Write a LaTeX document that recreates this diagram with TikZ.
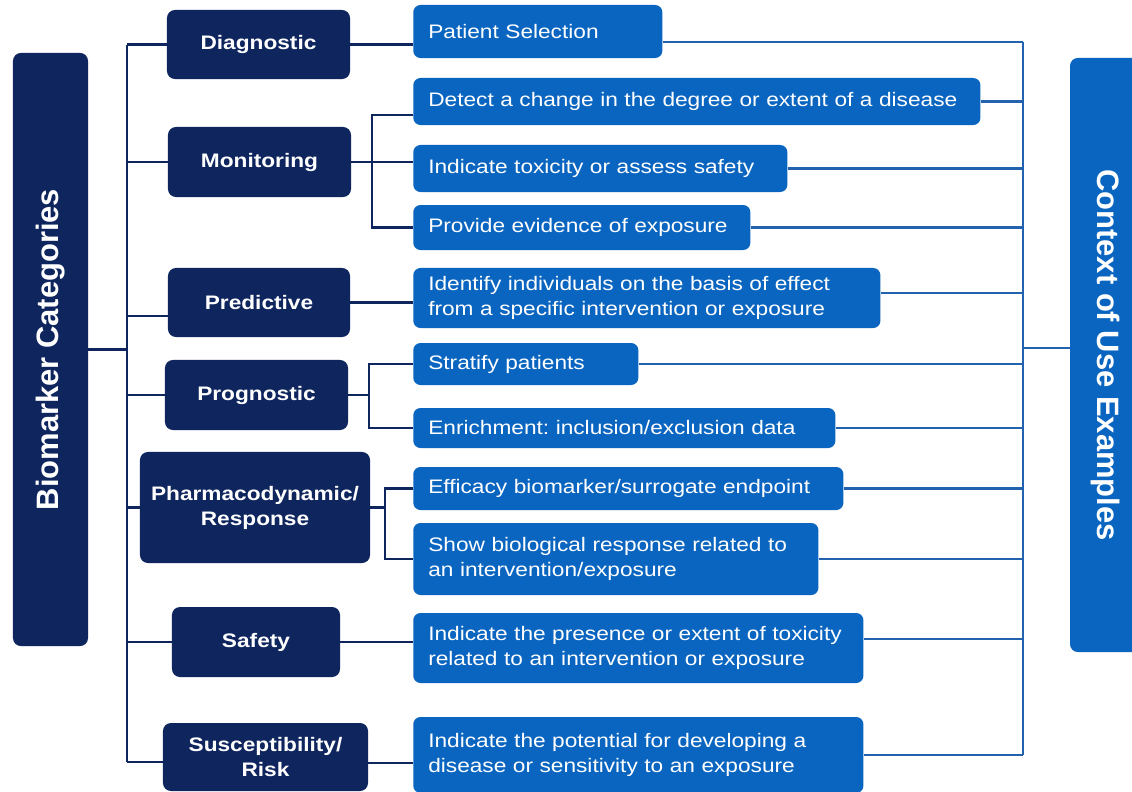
\documentclass[tikz,border=0pt]{standalone}
\usepackage{fontspec}
\setmainfont[FakeStretch=1.16]{Liberation Sans}
\newfontfamily\titlefont{Liberation Sans}
\usepackage{xcolor}
\usepackage{tikz}
\frenchspacing

\definecolor{catnavy}{RGB}{14,37,94}
\definecolor{useblue}{RGB}{10,101,192}
\definecolor{uselinecol}{RGB}{35,98,175}

\tikzset{
  catbox/.style={fill=catnavy, text=white, rounded corners=0.2cm, inner sep=0pt,
    align=center, font=\fontsize{13.9}{17.8}\selectfont\bfseries},
  usebox/.style={fill=useblue, text=white, rounded corners=0.18cm, inner xsep=0.375cm,
    inner ysep=0pt, anchor=west, align=left, font=\fontsize{13.9}{17.8}\selectfont},
  titlebox/.style={text=white, rounded corners=0.2cm, inner sep=0pt,
    font=\titlefont\bfseries\fontsize{22}{26}\selectfont},
  catline/.style={draw=catnavy, line width=1.6pt},
  useline/.style={draw=uselinecol, line width=1.5pt}
}

\begin{document}
\begin{tikzpicture}[x=0.025cm,y=-0.025cm]
  \fill[white] (0,0) rectangle (1132,791);
  \useasboundingbox (0,0) rectangle (1132,791);

  \node[titlebox, fill=catnavy, minimum width=1.875cm, minimum height=14.825cm] (bio) at (50.5,349.5) {\rotatebox{90}{Biomarker Categories}};
  \node[titlebox, fill=useblue, minimum width=1.75cm, minimum height=14.85cm] (ctx) at (1105,355) {\rotatebox{-90}{Context of Use Examples}};

  \node[catbox, minimum width=4.575cm, minimum height=1.725cm] (diag) at (258.5,44.5) {Diagnostic};
  \node[catbox, minimum width=4.575cm, minimum height=1.75cm] (moni) at (259.5,162) {Monitoring};
  \node[catbox, minimum width=4.55cm, minimum height=1.725cm] (pred) at (259,302.5) {Predictive};
  \node[catbox, minimum width=4.575cm, minimum height=1.75cm] (prog) at (256.5,395) {Prognostic};
  \node[catbox, minimum width=5.75cm, minimum height=2.775cm] (phar) at (255,507.5) {Pharmacodynamic/\\Response};
  \node[catbox, minimum width=4.2cm, minimum height=1.75cm] (safe) at (256,642) {Safety};
  \node[catbox, minimum width=5.125cm, minimum height=1.7cm] (risk) at (265.5,757) {Susceptibility/\\Risk};

  \node[usebox, text width=5.475cm, minimum height=1.325cm] (psel) at (413,31.5) {Patient Selection};
  \node[usebox, text width=13.425cm, minimum height=1.175cm] (detc) at (413,101.5) {Detect a change in the degree or extent of a disease};
  \node[usebox, text width=8.6cm, minimum height=1.175cm] (toxi) at (413,168.5) {Indicate toxicity or assess safety};
  \node[usebox, text width=7.675cm, minimum height=1.125cm] (expo) at (413,227.5) {Provide evidence of exposure};
  \node[usebox, text width=10.925cm, minimum height=1.5cm] (iden) at (413,298) {Identify individuals on the basis of effect\\from a specific intervention or exposure};
  \node[usebox, text width=4.875cm, minimum height=1.05cm] (stra) at (413,364) {Stratify patients};
  \node[usebox, text width=9.8cm, minimum height=1.0cm] (enri) at (413,428) {Enrichment: inclusion/exclusion data};
  \node[usebox, text width=10cm, minimum height=1.075cm] (effi) at (413,488.5) {Efficacy biomarker/surrogate endpoint};
  \node[usebox, text width=9.375cm, minimum height=1.8cm] (show) at (413,559) {Show biological response related to\\an intervention/exposure};
  \node[usebox, text width=10.5cm, minimum height=1.75cm] (pres) at (413,648) {Indicate the presence or extent of toxicity\\related to an intervention or exposure};
  \node[usebox, text width=10.5cm, minimum height=1.9cm] (pote) at (413,755) {Indicate the potential for developing a\\disease or sensitivity to an exposure};

  \coordinate (ltr) at (127,0);
  \coordinate (rtr) at (1023,0);
  \coordinate (predin) at ([yshift=-0.34cm]pred.west);
  \coordinate (riskin) at ([yshift=-0.12cm]risk.west);
  \coordinate (riskout) at ([yshift=-0.15cm]risk.east);
  \coordinate (detcin) at ([yshift=-0.34cm]detc.west);
  \coordinate (pselout) at ([yshift=-0.26cm]psel.east);
  \coordinate (idenout) at ([yshift=0.12cm]iden.east);
  \coordinate (presout) at ([yshift=0.22cm]pres.east);
  \coordinate (ctxin) at ([yshift=0.17cm]ctx.west);

  % left side
  \draw[catline] (bio.east) -- (bio.east -| ltr);
  \draw[catline] (diag.west -| ltr) -- (riskin -| ltr);
  \foreach \n in {diag,moni,prog,phar,safe}
    \draw[catline] (\n.west) -- (\n.west -| ltr);
  \draw[catline] (predin) -- (predin -| ltr);
  \draw[catline] (riskin) -- (riskin -| ltr);

  \draw[catline] (diag.east) -- (diag.east -| psel.west);
  \draw[catline] (moni.east) -- (moni.east -| toxi.west);
  \draw[catline] (detcin) -- ++(-41,0) |- (expo.west);
  \draw[catline] (pred.east) -- (pred.east -| iden.west);
  \draw[catline] (prog.east) -- ++(21,0);
  \draw[catline] (stra.west) -- ++(-44,0) |- (enri.west);
  \draw[catline] (phar.east) -- ++(15,0);
  \draw[catline] (effi.west) -- ++(-28,0) |- (show.west);
  \draw[catline] (safe.east) -- (safe.east -| pres.west);
  \draw[catline] (riskout) -- (riskout -| pote.west);

  % right side
  \foreach \n in {detc,toxi,expo,stra,enri,effi,show,pote}
    \draw[useline] (\n.east) -- (\n.east -| rtr);
  \draw[useline] (pselout) -- (pselout -| rtr);
  \draw[useline] (idenout) -- (idenout -| rtr);
  \draw[useline] (presout) -- (presout -| rtr);
  \draw[useline] (pselout -| rtr) -- (pote.east -| rtr);
  \draw[useline] (ctxin) -- (ctxin -| rtr);
\end{tikzpicture}
\end{document}
